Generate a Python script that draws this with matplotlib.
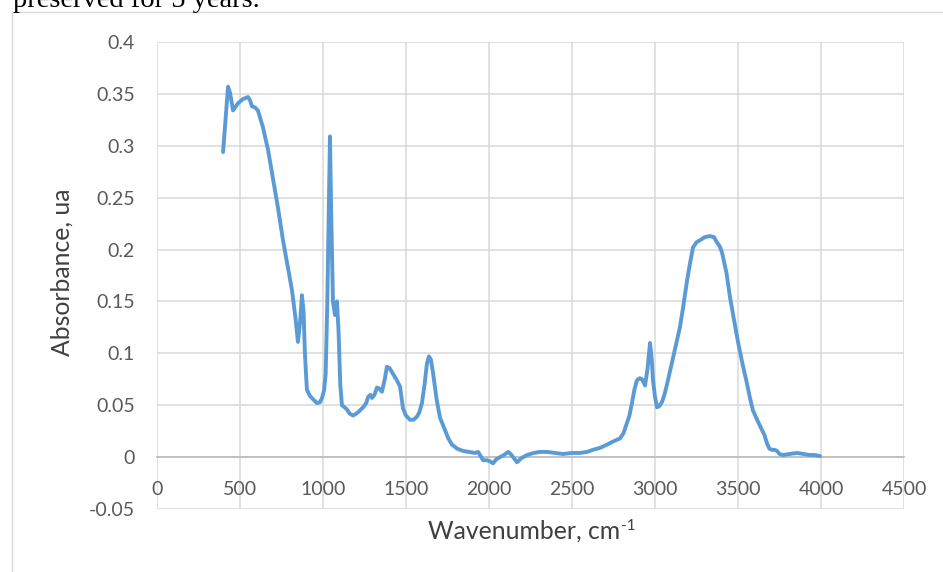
import matplotlib
matplotlib.use("Agg")
import matplotlib.pyplot as plt
from matplotlib.lines import Line2D

# FTIR spectrum
wavenumber = [398, 428, 440, 458, 488, 518, 548, 560, 572, 590, 608, 638, 669, 699,
              729, 759, 786, 813, 835, 849, 862, 873, 883, 891, 903, 921, 945, 964,
              982, 994, 1006, 1016, 1026, 1036, 1042, 1050, 1060, 1072, 1078, 1084,
              1094, 1104, 1114, 1130, 1144, 1160, 1181, 1210, 1242, 1260, 1272, 1285,
              1295, 1310, 1325, 1340, 1355, 1372, 1385, 1400, 1415, 1430, 1445, 1464,
              1482, 1500, 1524, 1545, 1566, 1580, 1596, 1612, 1626, 1638, 1650, 1663,
              1685, 1705, 1735, 1755, 1777, 1810, 1843, 1880, 1916, 1934, 1946, 1964,
              1988, 2005, 2024, 2045, 2066, 2090, 2115, 2130, 2145, 2169, 2195, 2229,
              2270, 2307, 2349, 2400, 2446, 2500, 2548, 2590, 2626, 2670, 2711, 2747,
              2789, 2810, 2831, 2846, 2861, 2876, 2891, 2907, 2922, 2940, 2955, 2970,
              2980, 2988, 3000, 3012, 3025, 3042, 3060, 3078, 3105, 3133, 3150, 3170,
              3193, 3210, 3229, 3250, 3271, 3300, 3331, 3355, 3373, 3390, 3404, 3430,
              3452, 3475, 3500, 3527, 3554, 3572, 3590, 3618, 3645, 3660, 3675, 3690,
              3705, 3720, 3735, 3750, 3771, 3810, 3855, 3895, 3934, 3965, 3994]
absorbance = [0.294, 0.357, 0.351, 0.334, 0.341, 0.345, 0.347, 0.344, 0.338, 0.337,
              0.334, 0.318, 0.296, 0.268, 0.240, 0.209, 0.185, 0.161, 0.133, 0.111,
              0.130, 0.156, 0.140, 0.100, 0.065, 0.059, 0.055, 0.052, 0.053, 0.057,
              0.064, 0.080, 0.150, 0.250, 0.309, 0.230, 0.150, 0.137, 0.145, 0.150,
              0.120, 0.070, 0.050, 0.048, 0.046, 0.042, 0.040, 0.043, 0.048, 0.052,
              0.058, 0.060, 0.057, 0.060, 0.067, 0.066, 0.063, 0.075, 0.087, 0.086,
              0.082, 0.078, 0.074, 0.068, 0.047, 0.040, 0.036, 0.036, 0.039, 0.043,
              0.052, 0.070, 0.090, 0.097, 0.094, 0.081, 0.055, 0.038, 0.026, 0.018,
              0.012, 0.008, 0.006, 0.005, 0.004, 0.005, 0.002, -0.003, -0.003, -0.004,
              -0.006, -0.002, 0.000, 0.002, 0.005, 0.003, 0.000, -0.005, -0.001, 0.002,
              0.004, 0.005, 0.005, 0.004, 0.003, 0.004, 0.004, 0.005, 0.007, 0.009,
              0.012, 0.015, 0.018, 0.023, 0.033, 0.040, 0.052, 0.065, 0.074, 0.076,
              0.075, 0.069, 0.085, 0.110, 0.095, 0.074, 0.058, 0.048, 0.049, 0.053,
              0.062, 0.074, 0.093, 0.113, 0.125, 0.145, 0.170, 0.186, 0.202, 0.207,
              0.209, 0.212, 0.213, 0.212, 0.207, 0.203, 0.197, 0.178, 0.154, 0.133,
              0.111, 0.090, 0.071, 0.057, 0.045, 0.035, 0.026, 0.021, 0.013, 0.008,
              0.007, 0.007, 0.006, 0.003, 0.002, 0.003, 0.004, 0.003, 0.002, 0.002,
              0.001]

x_ticks = [0, 500, 1000, 1500, 2000, 2500, 3000, 3500, 4000, 4500]
y_ticks = [-0.05, 0, 0.05, 0.1, 0.15, 0.2, 0.25, 0.3, 0.35, 0.4]
y_tick_labels = ["-0.05", "0", "0.05", "0.1", "0.15", "0.2", "0.25", "0.3", "0.35", "0.4"]

plt.rcParams['font.family'] = ['Lato', 'DejaVu Sans']

W, H = 943, 572
fig = plt.figure(figsize=(W / 100, H / 100), dpi=100)
ax = fig.add_axes([157 / W, 1 - 509 / H, (904 - 157) / W, (509 - 42) / H])

ax.plot(wavenumber, absorbance, color='#5B9BD5', lw=2.8,
        solid_joinstyle='round', solid_capstyle='round', zorder=3)

ax.set_xlim(0, 4500)
ax.set_ylim(-0.05, 0.4)
ax.set_xticks(x_ticks)
ax.set_yticks(y_ticks)
ax.set_yticklabels(y_tick_labels)
ax.grid(True, color='#D9D9D9', lw=1.1)
ax.set_axisbelow(True)

for s in ['top', 'right', 'left']:
    ax.spines[s].set_visible(False)
ax.spines['bottom'].set_position(('data', 0))
ax.spines['bottom'].set_color('#BFBFBF')
ax.spines['bottom'].set_linewidth(1.3)
ax.spines['bottom'].set_zorder(2)

ax.tick_params(axis='x', length=0, pad=17, labelsize=14, labelcolor='#595959')
ax.tick_params(axis='y', length=0, pad=16, labelsize=14, labelcolor='#595959')

fig.text(62 / W, 1 - 272 / H, 'Absorbance, ua', rotation=90, ha='center', va='center',
         fontsize=17.8, color='#404040')
# x title with a small "-1" exponent, as Excel draws it
xt = fig.text(524 / W, 1 - 531 / H, 'Wavenumber, cm', ha='center', va='center',
              fontsize=17.8, color='#404040')
fig.canvas.draw()
bb = xt.get_window_extent()
fig.text((bb.x1 + 1) / W, (bb.y1 - 6) / H, '-1', ha='left', va='center',
         fontsize=11, color='#404040')

# chart border and the cut-off text above it
fig.add_artist(Line2D([12 / W, 12 / W], [0, 1 - 12 / H], color='#D9D9D9', lw=1))
fig.add_artist(Line2D([12 / W, 1], [1 - 12 / H, 1 - 12 / H], color='#D9D9D9', lw=1))
fig.text(13 / W, 1 - 7 / H, 'preserved for 5 years.', family='Liberation Serif',
         fontsize=20.5, va='baseline', ha='left', color='black')

fig.savefig('out.png', dpi=100)
